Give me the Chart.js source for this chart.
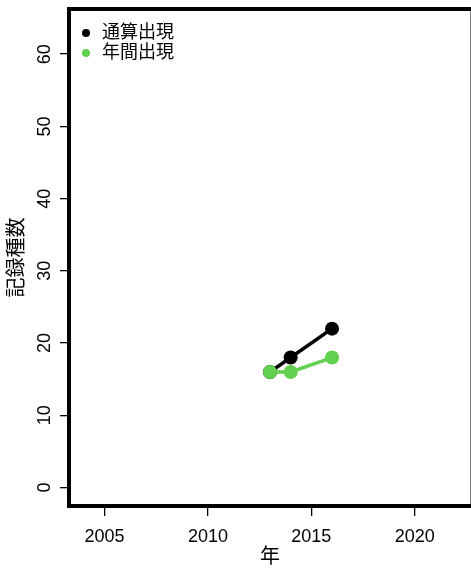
<!DOCTYPE html>
<html><head><meta charset="utf-8">
<script src="https://cdn.jsdelivr.net/npm/chart.js@4"></script>
<style>html,body{margin:0;padding:0;background:#fff}canvas{display:block}</style>
</head><body>
<canvas id="c" width="471" height="569"></canvas>
<script>
const years = [2013, 2014, 2016];
const cumulativeSpecies = [16, 18, 22];
const annualSpecies = [16, 16, 18];
const seriesLabels = ['通算出現', '年間出現'];
const seriesColors = ['#000000', '#61D04F'];
const xTickValues = [2005, 2010, 2015, 2020];
const yTickValues = [0, 10, 20, 30, 40, 50, 60];
const xTitle = '年';
const yTitle = '記録種数';

const FONT = "'Liberation Sans', 'Noto Sans CJK JP', sans-serif";

const toPoints = (xs, ys) => xs.map((x, i) => ({x, y: ys[i]}));

const overlay = {
  id: 'overlay',
  afterDraw(chart) {
    const ctx = chart.ctx;
    const a = chart.chartArea;
    ctx.save();
    ctx.strokeStyle = '#000';
    ctx.lineWidth = 4;
    // the plot box's right side lies just past the canvas edge in the reference
    const r = a.right + 1.5;
    ctx.beginPath();
    ctx.moveTo(a.left, a.top);
    ctx.lineTo(r, a.top);
    ctx.lineTo(r, a.bottom);
    ctx.lineTo(a.left, a.bottom);
    ctx.closePath();
    ctx.stroke();
    const ys = chart.scales.y;
    ctx.fillStyle = '#000';
    ctx.font = '18px ' + FONT;
    ctx.textAlign = 'center';
    ctx.textBaseline = 'alphabetic';
    ys.ticks.forEach(t => {
      const py = ys.getPixelForValue(t.value);
      ctx.save();
      ctx.translate(49.5, py);
      ctx.rotate(-Math.PI / 2);
      ctx.fillText(String(t.value), 0, 0);
      ctx.restore();
    });
    ctx.textAlign = 'left';
    ctx.textBaseline = 'middle';
    chart.data.datasets.forEach((ds, i) => {
      const y = 33 + i * 20;
      ctx.beginPath();
      ctx.fillStyle = ds.borderColor;
      ctx.arc(86, y, 4, 0, Math.PI * 2);
      ctx.fill();
      ctx.fillStyle = '#000';
      ctx.fillText(ds.label, 102, y + 0.5);
    });
    ctx.restore();
  }
};

new Chart(document.getElementById('c'), {
  type: 'line',
  data: {
    datasets: [
      {label: seriesLabels[0], data: toPoints(years, cumulativeSpecies), borderColor: seriesColors[0], backgroundColor: seriesColors[0], pointBackgroundColor: seriesColors[0], borderWidth: 3.5, pointRadius: 7, pointBorderWidth: 0, order: 1},
      {label: seriesLabels[1], data: toPoints(years, annualSpecies), borderColor: seriesColors[1], backgroundColor: seriesColors[1], pointBackgroundColor: seriesColors[1], borderWidth: 3.5, pointRadius: 7, pointBorderWidth: 0, order: 0}
    ]
  },
  options: {
    responsive: false,
    animation: false,
    devicePixelRatio: 1,
    layout: {autoPadding: false, padding: {top: 9, left: 0, right: 0, bottom: 0}},
    plugins: {legend: {display: false}, tooltip: {enabled: false}},
    scales: {
      x: {
        type: 'linear',
        min: 2003.28, max: 2022.72,
        afterBuildTicks: s => { s.ticks = xTickValues.map(v => ({value: v})); },
        afterFit: s => { s.height = 63; s.paddingLeft = 0; s.paddingRight = 0; },
        border: {display: false},
        grid: {drawOnChartArea: false, drawTicks: true, tickLength: 10, color: '#000', lineWidth: 1.3},
        ticks: {color: '#000', font: {family: FONT, size: 18}, padding: 10, maxRotation: 0, minRotation: 0, callback: v => String(v)},
        title: {display: true, text: xTitle, color: '#000', font: {family: FONT, size: 20}, padding: {top: 0, bottom: 0}}
      },
      y: {
        type: 'linear',
        min: -2.55, max: 66.25,
        afterBuildTicks: s => { s.ticks = yTickValues.map(v => ({value: v})); },
        afterFit: s => { s.width = 69; s.paddingTop = 0; s.paddingBottom = 0; },
        border: {display: false},
        grid: {drawOnChartArea: false, drawTicks: true, tickLength: 9, color: '#000', lineWidth: 1.3},
        ticks: {display: false},
        title: {display: true, text: yTitle, color: '#000', font: {family: FONT, size: 20}, padding: {top: 5, bottom: 0}}
      }
    }
  },
  plugins: [overlay]
});
</script>
</body></html>
